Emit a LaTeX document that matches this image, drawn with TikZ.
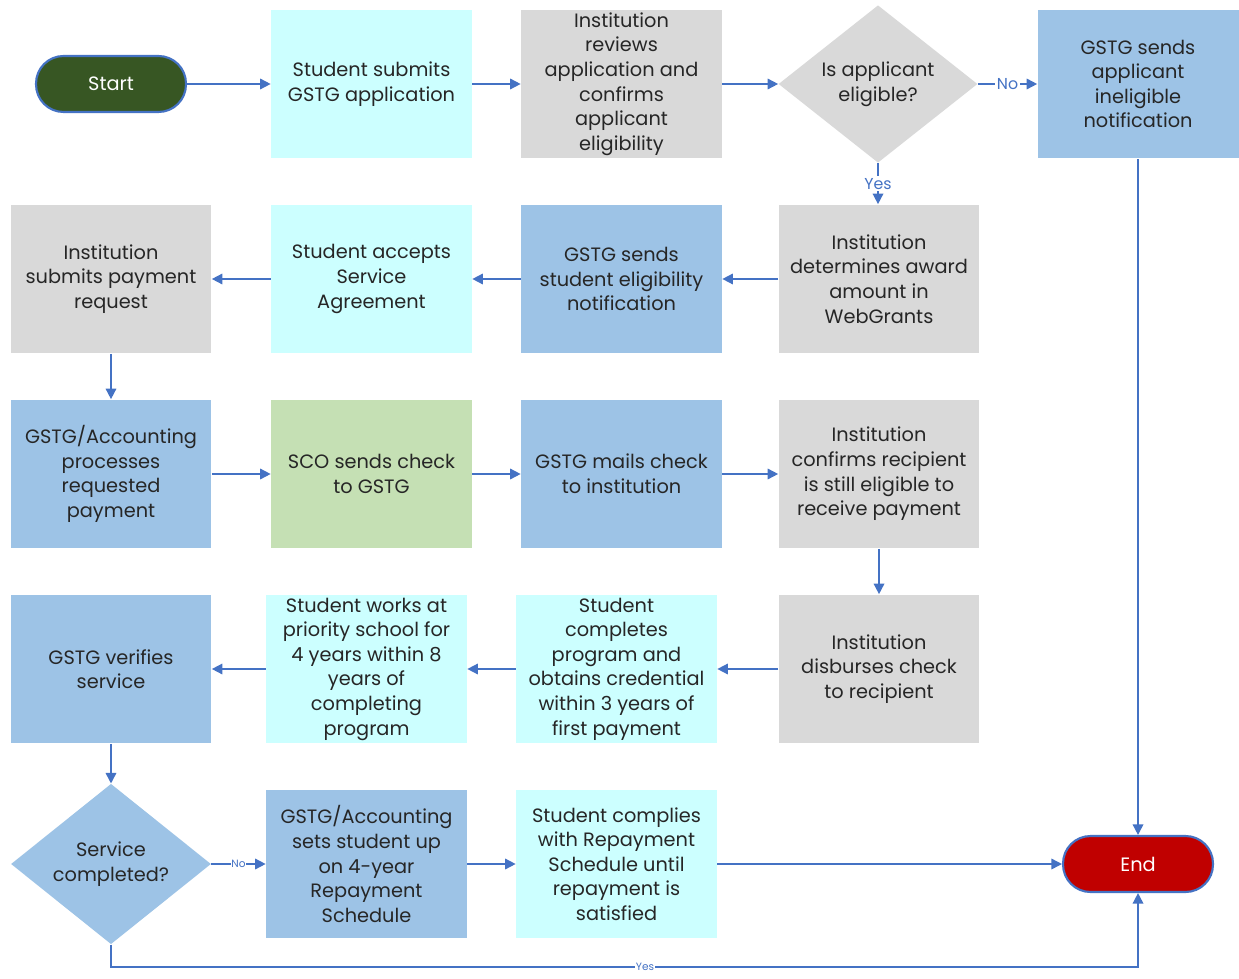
\documentclass[tikz,border=0pt]{standalone}
\usepackage{fontspec}
\setmainfont{Poppins}
\usetikzlibrary{shapes.geometric,arrows.meta}

\definecolor{cyanbox}{HTML}{CCFFFF}
\definecolor{graybox}{HTML}{D9D9D9}
\definecolor{bluebox}{HTML}{9DC3E6}
\definecolor{greenbox}{HTML}{C5E0B4}
\definecolor{linkblue}{HTML}{4472C4}
\definecolor{textgray}{HTML}{262626}
\definecolor{startgreen}{HTML}{375623}
\definecolor{endred}{HTML}{C00000}

\begin{document}
\begin{tikzpicture}[x=0.02cm, y=-0.02cm,
            font=\fontsize{11}{14}\selectfont,
            box/.style = {rectangle, minimum width=4.02cm, minimum height=2.98cm, inner sep=0pt, align=center, text=textgray},
            decide/.style = {diamond, minimum width=3.98cm, minimum height=2.98cm, inner sep=0pt, align=center, text=textgray},
            pill/.style = {rectangle, rounded corners=0.55cm, minimum width=3cm, minimum height=1.12cm, draw=linkblue, line width=1.2pt, text=white},
            link/.style = {draw=linkblue, line width=0.9pt, -{Triangle[length=6pt, width=6pt]}},
            tag/.style = {fill=white, inner sep=1pt, text=linkblue, font=\fontsize{9}{10}\selectfont},
            smalltag/.style = {fill=white, inner sep=0.5pt, text=linkblue, font=\fontsize{6}{7}\selectfont}]
            \useasboundingbox (0,0) rectangle (1239,979);
            \fill[white] (0,0) rectangle (1239,979);

            \node[pill, fill=startgreen] (start) at (111,84) {Start};
            \node[box, fill=cyanbox] (submit) at (371.5,84) {Student submits\\GSTG application};
            \node[box, fill=graybox] (review) at (621.5,84) {Institution\\reviews\\application and\\confirms\\applicant\\eligibility};
            \node[decide, fill=graybox] (eligible) at (878,84) {Is applicant\\eligible?};
            \node[box, fill=bluebox] (notify) at (1138,84) {GSTG sends\\applicant\\ineligible\\notification};

            \node[box, fill=graybox] (payreq) at (111,279) {Institution\\submits payment\\request};
            \node[box, fill=cyanbox] (accept) at (371.5,279) {Student accepts\\Service\\Agreement};
            \node[box, fill=bluebox] (sendelig) at (621.5,279) {GSTG sends\\student eligibility\\notification};
            \node[box, fill=graybox] (determine) at (879,279) {Institution\\determines award\\amount in\\WebGrants};

            \node[box, fill=bluebox] (process) at (111,474) {GSTG/Accounting\\processes\\requested\\payment};
            \node[box, fill=greenbox] (sco) at (371.5,474) {SCO sends check\\to GSTG};
            \node[box, fill=bluebox] (mails) at (621.5,474) {GSTG mails check\\to institution};
            \node[box, fill=graybox] (confirm) at (879,474) {Institution\\confirms recipient\\is still eligible to\\receive payment};

            \node[box, fill=bluebox] (verify) at (111,669) {GSTG verifies\\service};
            \node[box, fill=cyanbox] (works) at (366.5,669) {Student works at\\priority school for\\4 years within 8\\years of\\completing\\program};
            \node[box, fill=cyanbox] (completes) at (616.5,669) {Student\\completes\\program and\\obtains credential\\within 3 years of\\first payment};
            \node[box, fill=graybox] (disburse) at (879,669) {Institution\\disburses check\\to recipient};

            \node[decide, fill=bluebox, minimum width=4cm, minimum height=3cm] (service) at (111,864) {Service\\completed?};
            \node[box, fill=bluebox] (setsup) at (366.5,864) {GSTG/Accounting\\sets student up\\on 4-year\\Repayment\\Schedule};
            \node[box, fill=cyanbox] (complies) at (616.5,864) {Student complies\\with Repayment\\Schedule until\\repayment is\\satisfied};
            \node[pill, fill=endred] (end) at (1138,864) {End};
            \coordinate (loopbase) at (111,967);

            \draw[link] (start) -- (submit);
            \draw[link] (submit) -- (review);
            \draw[link] (review) -- (eligible);
            \draw[link] (eligible) -- node[tag] {No} (notify);
            \draw[link] (eligible.south) -- node[tag] {Yes} (eligible.south |- determine.north);
            \draw[link] (determine) -- (sendelig);
            \draw[link] (sendelig) -- (accept);
            \draw[link] (accept) -- (payreq);
            \draw[link] (payreq) -- (process);
            \draw[link] (process) -- (sco);
            \draw[link] (sco) -- (mails);
            \draw[link] (mails) -- (confirm);
            \draw[link] (confirm) -- (disburse);
            \draw[link] (disburse) -- (completes);
            \draw[link] (completes) -- (works);
            \draw[link] (works) -- (verify);
            \draw[link] (verify) -- (service);
            \draw[link] (service) -- node[smalltag] {No} (setsup);
            \draw[link] (setsup) -- (complies);
            \draw[link] (complies) -- (end);
            \draw[link] (notify) -- (end);
            \draw[link] (service.south) -- (loopbase) -| node[smalltag, pos=0.26] {Yes} (end.south);
    \end{tikzpicture}
\end{document}
